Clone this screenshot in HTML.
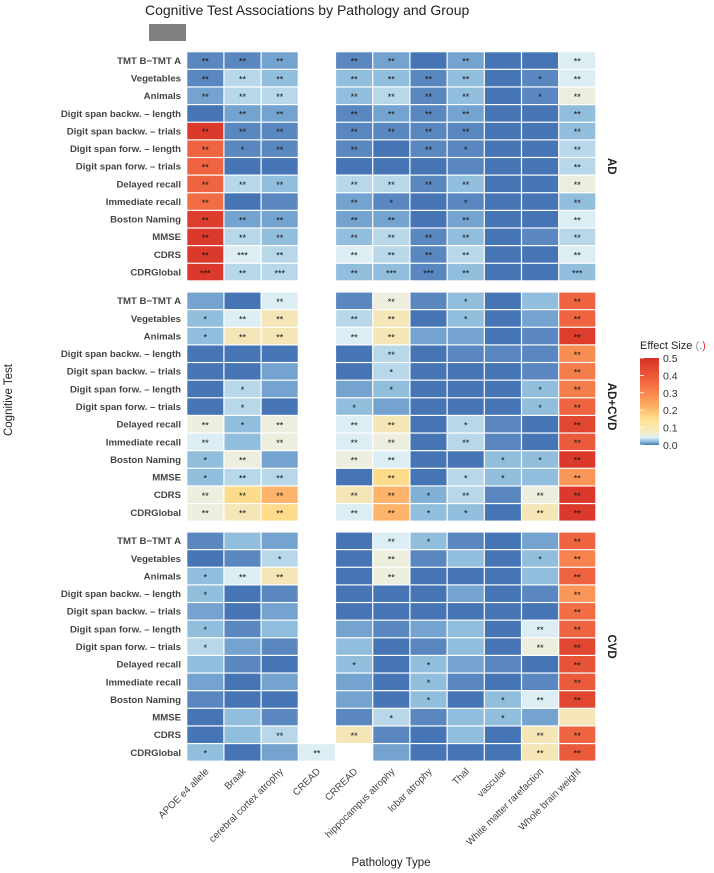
<!DOCTYPE html>
<html><head><meta charset="utf-8"><style>
body{margin:0;background:#fff;}
svg{display:block;font-family:"Liberation Sans",Arial,sans-serif;}
</style></head><body>
<svg id="chart" width="714" height="873" viewBox="0 0 714 873">
<text x="145" y="15" font-size="14" fill="#222">Cognitive Test Associations by Pathology and Group</text>
<rect x="149" y="24" width="37" height="17" fill="#808080"/>
<text x="391" y="866" font-size="11.5" fill="#222" text-anchor="middle">Pathology Type</text>
<text transform="translate(12,400) rotate(-90)" font-size="11.5" fill="#222" text-anchor="middle">Cognitive Test</text>
<g id="cells"></g>
<g id="legend">
<defs><linearGradient id="lg" x1="0" y1="1" x2="0" y2="0">
<stop offset="0" stop-color="#4575b4"/><stop offset="0.04" stop-color="#91bfdb"/><stop offset="0.09" stop-color="#e0f3f8"/><stop offset="0.14" stop-color="#f5ecc5"/><stop offset="0.3" stop-color="#fee090"/><stop offset="0.45" stop-color="#fdae61"/><stop offset="0.7" stop-color="#f46d43"/><stop offset="1" stop-color="#d73027"/></linearGradient></defs>
<text x="640" y="349" font-size="11" fill="#222">Effect Size <tspan fill="#999">(</tspan><tspan fill="#29b">.</tspan><tspan fill="#e33">)</tspan></text>
<rect x="640" y="358" width="19" height="87" fill="url(#lg)"/>
</g>
</svg>
<script>
const pathologies=["APOE e4 allele","Braak","cerebral cortex atrophy","CREAD","CRREAD","hippocampus atrophy","lobar atrophy","Thal","vascular","White matter rarefaction","Whole brain weight"];
const tests=["TMT B\u2212TMT A","Vegetables","Animals","Digit span backw. \u2013 length","Digit span backw. \u2013 trials","Digit span forw. \u2013 length","Digit span forw. \u2013 trials","Delayed recall","Immediate recall","Boston Naming","MMSE","CDRS","CDRGlobal"];
const groups=["AD","AD+CVD","CVD"];
const legendTicks=[0.0,0.1,0.2,0.3,0.4,0.5];
const valuesAD=[
[0.005,0.005,0.01,null,0.005,0.01,0,0.01,0,0,0.045],
[0.005,0.03,0.02,null,0.02,0.02,0.005,0.02,0,0.005,0.045],
[0.01,0.03,0.03,null,0.02,0.03,0.005,0.02,0,0.005,0.06],
[0,0.01,0.01,null,0.005,0.01,0.005,0.01,0,0,0.02],
[0.48,0.005,0.005,null,0.005,0.005,0.005,0.005,0,0,0.02],
[0.38,0.005,0.005,null,0.005,0,0.005,0.005,0,0,0.03],
[0.38,0,0,null,0,0,0,0.005,0,0,0.03],
[0.38,0.03,0.02,null,0.03,0.03,0.005,0.02,0,0,0.06],
[0.36,0,0.005,null,0.01,0.005,0,0.005,0,0,0.02],
[0.47,0.01,0.01,null,0.01,0.01,0,0.01,0,0,0.045],
[0.48,0.03,0.02,null,0.02,0.03,0.005,0.02,0,0.005,0.03],
[0.48,0.045,0.03,null,0.045,0.03,0.005,0.03,0,0,0.045],
[0.48,0.03,0.03,null,0.02,0.02,0.005,0.02,0,0,0.02]];
const sigAD=[
["**","**","**","","**","**","","**","","","**"],
["**","**","**","","**","**","**","**","","*","**"],
["**","**","**","","**","**","**","**","","*","**"],
["","**","**","","**","**","**","**","","","**"],
["**","**","**","","**","**","**","**","","","**"],
["**","*","**","","**","","**","*","","","**"],
["**","","","","","","","","","","**"],
["**","**","**","","**","**","**","**","","","**"],
["**","","","","**","*","","*","","","**"],
["**","**","**","","**","**","","**","","","**"],
["**","**","**","","**","**","**","**","","","**"],
["**","***","**","","**","**","**","**","","","**"],
["***","**","***","","**","***","***","**","","","***"]];
const valuesADCVD=[
[0.01,0,0.045,null,0.005,0.06,0.005,0.02,0,0.02,0.38],
[0.02,0.045,0.09,null,0.03,0.09,0,0.02,0,0.01,0.38],
[0.02,0.09,0.09,null,0.045,0.09,0.01,0.01,0,0.005,0.47],
[0,0,0,null,0,0.03,0,0.005,0.005,0.005,0.3],
[0,0,0.01,null,0,0.03,0,0,0,0.005,0.33],
[0,0.03,0.01,null,0.01,0.02,0,0,0,0.02,0.33],
[0,0.03,0,null,0.02,0.01,0,0,0,0.02,0.38],
[0.06,0.02,0.06,null,0.045,0.09,0,0.03,0.005,0,0.45],
[0.045,0.02,0.06,null,0.045,0.06,0,0.03,0.005,0,0.4],
[0.02,0.06,0.01,null,0.06,0.045,0,0,0.02,0.02,0.48],
[0.02,0.03,0.03,null,0,0.15,0,0.03,0.02,0.02,0.28],
[0.06,0.15,0.22,null,0.09,0.22,0.015,0.03,0.005,0.06,0.48],
[0.06,0.09,0.15,null,0.045,0.22,0.02,0.02,0,0.09,0.48]];
const sigADCVD=[
["","","**","","","**","","*","","","**"],
["*","**","**","","**","**","","*","","","**"],
["*","**","**","","**","**","","","","","**"],
["","","","","","**","","","","","**"],
["","","","","","*","","","","","**"],
["","*","","","","*","","","","*","**"],
["","*","","","*","","","","","*","**"],
["**","*","**","","**","**","","*","","","**"],
["**","","**","","**","**","","**","","","**"],
["*","**","","","**","**","","","*","*","**"],
["*","**","**","","","**","","*","*","","**"],
["**","**","**","","**","**","*","**","","**","**"],
["**","**","**","","**","**","*","*","","**","**"]];
const valuesCVD=[
[0.005,0.02,0.01,null,0,0.045,0.02,0.005,0,0.01,0.38],
[0,0.005,0.03,null,0,0.06,0.005,0.02,0,0.02,0.32],
[0.02,0.045,0.09,null,0,0.06,0,0,0,0.02,0.38],
[0.02,0,0.005,null,0,0,0,0.01,0,0.005,0.28],
[0.01,0,0.01,null,0,0,0,0,0,0,0.36],
[0.02,0.005,0.02,null,0.01,0.005,0.01,0.02,0,0.045,0.38],
[0.03,0.01,0.005,null,0.02,0,0.005,0.02,0,0.06,0.45],
[0.02,0.005,0,null,0.02,0,0.02,0.01,0.005,0,0.42],
[0.01,0,0.01,null,0.01,0,0.02,0.005,0,0.005,0.4],
[0.005,0,0,null,0.01,0,0.02,0,0.02,0.045,0.45],
[0,0.02,0.005,null,0.005,0.03,0.005,0.02,0.02,0.01,0.09],
[0,0.02,0.03,null,0.09,0.005,0,0.02,0,0.09,0.38],
[0.02,0,0.01,0.045,null,0.01,0,0,0,0.09,0.4]];
const sigCVD=[
["","","","","","**","*","","","","**"],
["","","*","","","**","","","","*","**"],
["*","**","**","","","**","","","","","**"],
["*","","","","","","","","","","**"],
["","","","","","","","","","","**"],
["*","","","","","","","","","**","**"],
["*","","","","","","","","","**","**"],
["","","","","*","","*","","","","**"],
["","","","","","","*","","","","**"],
["","","","","","","*","","*","**","**"],
["","","","","","*","","","*","",""],
["","","**","","**","","","","","**","**"],
["*","","","**","","","","","","**","**"]];
const panelValues=[valuesAD,valuesADCVD,valuesCVD];
const panelSig=[sigAD,sigADCVD,sigCVD];

const stops=[[0,[69,117,180]],[0.005,[90,135,192]],[0.01,[116,163,207]],[0.02,[146,190,221]],[0.03,[184,216,234]],[0.045,[220,237,244]],[0.06,[238,238,222]],[0.09,[245,230,184]],[0.15,[254,220,140]],[0.22,[253,180,106]],[0.3,[248,141,82]],[0.38,[238,100,64]],[0.5,[215,48,39]]];
function color(v){
  if(v<=0)return "rgb(69,117,180)";
  for(let i=1;i<stops.length;i++){
    if(v<=stops[i][0]){const a=stops[i-1],b=stops[i];const t=(v-a[0])/(b[0]-a[0]);
      const c=a[1].map((x,k)=>Math.round(x+(b[1][k]-x)*t));return "rgb("+c.join(",")+")";}
  }
  return "rgb(215,48,39)";
}
const NS="http://www.w3.org/2000/svg";
const x0=186.7,cw=37.2,rh=17.63,panelTops=[51.7,292,532];
function xScale(i){return x0+i*cw;}
function yScale(p,r){return panelTops[p]+r*rh;}
const g=document.getElementById("cells");
function mk(tag,attrs,parent){const e=document.createElementNS(NS,tag);for(const k in attrs)e.setAttribute(k,attrs[k]);parent.appendChild(e);return e;}
groups.forEach((grp,p)=>{
  const pg=mk("g",{},g);
  
  
  tests.forEach((t,r)=>{
    const lab=mk("text",{x:181,y:yScale(p,r)+rh/2+3.4,"font-size":9.6,"font-weight":"bold",fill:"#444","text-anchor":"end"},pg);
    lab.textContent=t;
    
    
    pathologies.forEach((c,ci)=>{
      const v=panelValues[p][r][ci];
      if(v===null)return;
      const rc=mk("rect",{x:xScale(ci)+0.6,y:yScale(p,r)+0.6,width:cw-1.2,height:rh-1.2,fill:color(v)},pg);
      
      
      const s=panelSig[p][r][ci];
      if(s){const st=mk("text",{x:xScale(ci)+cw/2,y:yScale(p,r)+rh/2+4.2,"font-size":9,fill:"#111","text-anchor":"middle"},pg);
        st.textContent=s;
        
        }
    });
  });
  const cy=panelTops[p]+6.5*rh;
  const sl=mk("text",{transform:"translate(608,"+cy+") rotate(90)","font-size":11.5,"font-weight":"bold",fill:"#222","text-anchor":"middle"},pg);
  sl.textContent=grp;
  
  
});
pathologies.forEach((c,ci)=>{
  const cx=xScale(ci)+cw/2+4, y=772;
  const t=mk("text",{transform:"translate("+cx+","+y+") rotate(-45)","font-size":9.8,fill:"#444","text-anchor":"end"},g);
  t.textContent=c;
  
  
});
const lgd=document.getElementById("legend");
legendTicks.forEach(v=>{
  const y=445-v/0.5*87;
  const t=mk("text",{x:663,y:y+4,"font-size":10.5,fill:"#333"},lgd);
  t.textContent=v.toFixed(1);
  
  
  const l=mk("line",{x1:640,x2:644,y1:y,y2:y,stroke:"#fff","stroke-width":0.8},lgd);
  
  
});
</script>
</body></html>
